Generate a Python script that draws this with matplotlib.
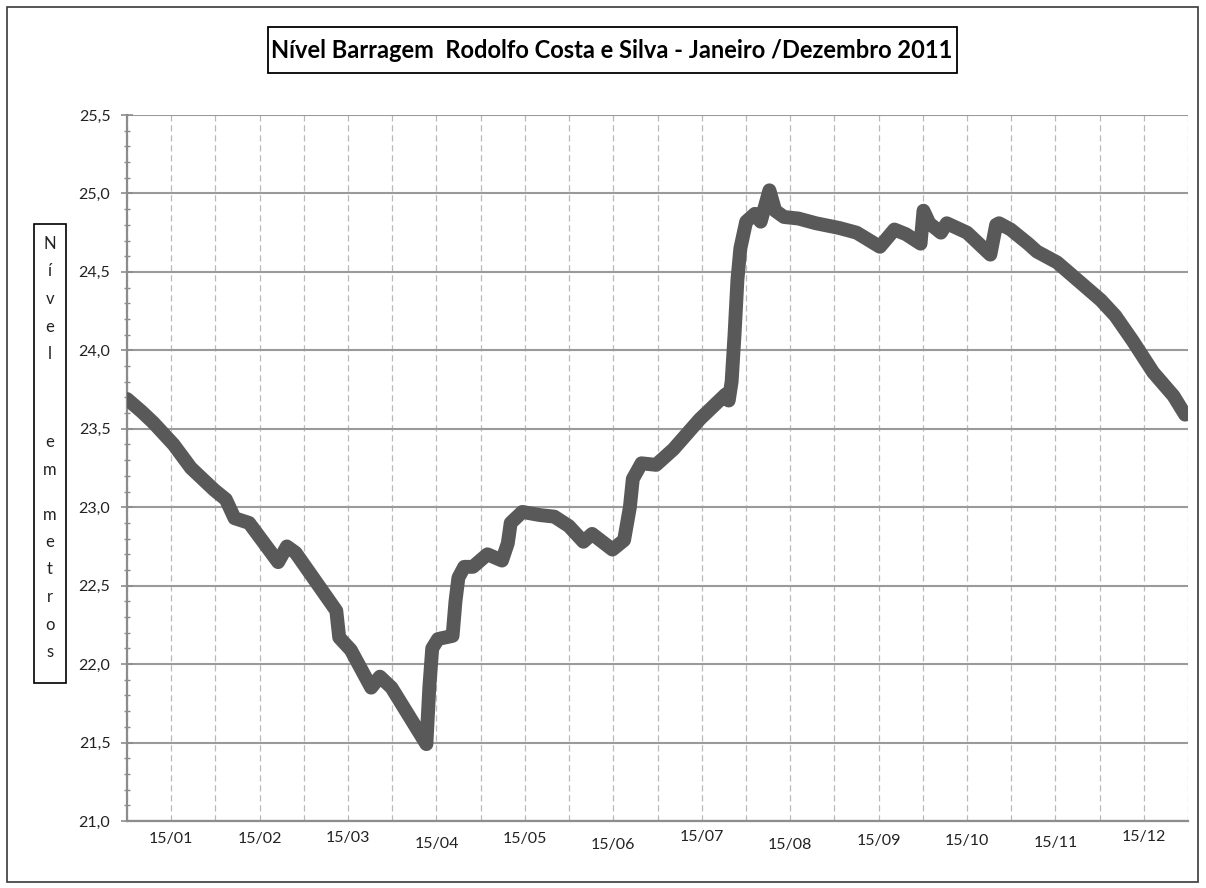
import numpy as np
import pandas as pd
import matplotlib
matplotlib.use("Agg")
from matplotlib import pyplot as plt
from matplotlib.patches import Rectangle
import matplotlib.dates as mdates

# nível diário da barragem (m), lido em datas de mudança de tendência
datas = [
    "2011-01-01", "2011-01-06", "2011-01-10", "2011-01-17", "2011-01-23", "2011-01-31",
    "2011-02-04", "2011-02-07", "2011-02-12", "2011-02-22", "2011-02-25", "2011-02-28",
    "2011-03-14", "2011-03-15", "2011-03-19", "2011-03-26", "2011-03-29", "2011-04-02",
    "2011-04-14", "2011-04-15", "2011-04-16", "2011-04-18", "2011-04-23", "2011-04-24",
    "2011-04-25", "2011-04-27", "2011-04-30", "2011-05-05", "2011-05-10", "2011-05-12",
    "2011-05-13", "2011-05-17", "2011-05-23", "2011-05-28", "2011-06-02", "2011-06-07",
    "2011-06-10", "2011-06-17", "2011-06-21", "2011-06-23", "2011-06-24", "2011-06-27",
    "2011-07-02", "2011-07-08", "2011-07-17", "2011-07-26", "2011-07-27", "2011-07-28",
    "2011-07-29", "2011-07-30", "2011-07-31", "2011-08-02", "2011-08-05", "2011-08-07",
    "2011-08-10", "2011-08-12", "2011-08-15", "2011-08-20", "2011-08-26", "2011-09-03",
    "2011-09-09", "2011-09-17", "2011-09-22", "2011-09-26", "2011-10-01", "2011-10-02",
    "2011-10-04", "2011-10-08", "2011-10-10", "2011-10-17", "2011-10-25", "2011-10-27",
    "2011-10-28", "2011-11-01", "2011-11-07", "2011-11-10", "2011-11-17", "2011-11-22",
    "2011-12-02", "2011-12-07", "2011-12-13", "2011-12-20", "2011-12-27", "2011-12-31",
]
nivel = [
    23.69, 23.61, 23.54, 23.40, 23.25, 23.11,
    23.05, 22.93, 22.90, 22.65, 22.75, 22.71,
    22.34, 22.17, 22.09, 21.85, 21.92, 21.85,
    21.49, 21.85, 22.10, 22.16, 22.18, 22.40,
    22.55, 22.62, 22.62, 22.70, 22.66, 22.77,
    22.90, 22.97, 22.95, 22.94, 22.88, 22.78,
    22.83, 22.73, 22.79, 23.00, 23.18, 23.28,
    23.27, 23.37, 23.56, 23.72, 23.68, 23.80,
    24.10, 24.45, 24.65, 24.82, 24.87, 24.82,
    25.02, 24.89, 24.85, 24.84, 24.81, 24.78,
    24.75, 24.66, 24.77, 24.74, 24.68, 24.89,
    24.81, 24.75, 24.81, 24.75, 24.61, 24.80,
    24.81, 24.77, 24.68, 24.63, 24.56, 24.48,
    24.32, 24.22, 24.06, 23.86, 23.71, 23.59,
]
meses = ["15/01", "15/02", "15/03", "15/04", "15/05", "15/06",
         "15/07", "15/08", "15/09", "15/10", "15/11", "15/12"]

titulo = "Nível Barragem  Rodolfo Costa e Silva - Janeiro /Dezembro 2011"
rotulo_y = "Nível em metros"

W, H = 1206, 888
plt.rcParams['font.family'] = ['Lato', 'DejaVu Sans']

fig = plt.figure(figsize=(W / 100, H / 100), dpi=100)


def caixa(x0, y0, x1, y1):
    # retângulo em pixels (origem no topo) -> coordenadas da figura
    return [x0 / W, 1 - y1 / H, (x1 - x0) / W, (y1 - y0) / H]


ax = fig.add_axes(caixa(127, 115, 1188, 821))

t = pd.to_datetime(datas)
ax.plot(t, nivel, color='#595959', lw=10, solid_joinstyle='round',
        solid_capstyle='round', zorder=3)

inicio = mdates.date2num(pd.Timestamp("2011-01-01"))
grade = inicio + np.linspace(0, 365, 25)
ax.set_xlim(grade[0], grade[-1])
ax.set_ylim(21.0, 25.5)

# grade vertical a cada meio mês; rótulos escritos à mão, cada um com seu desnível
ax.xaxis.remove_overlapping_locs = False
ax.set_xticks(grade[1::2], [""] * len(meses))
ax.set_xticks(grade, minor=True)
ax.xaxis.grid(True, which='minor', ls=(0, (5, 3)), color='#b9b9b9', lw=0.9)
ax.tick_params(axis='x', which='both', length=0)
desnivel = [0, 0, -1, 5, 0, 6, -2, 6, 2, 2, 4, -2]
for xm, rot, dy in zip(grade[1::2], meses, desnivel):
    ax.annotate(rot, (xm, 0), xycoords=('data', 'axes fraction'),
                xytext=(0, -8 - dy * 0.72), textcoords='offset points',
                ha='center', va='top', fontsize=11.5, color='#222222')

ax.set_yticks(np.arange(21.0, 25.51, 0.5))
ax.set_yticks(np.arange(21.0, 25.51, 0.1), minor=True)
ax.yaxis.set_major_formatter(lambda v, p: f"{v:.1f}".replace(".", ","))
ax.yaxis.grid(True, which='major', color='#9a9a9a', lw=1.5)
ax.tick_params(axis='y', which='major', direction='inout', length=8, width=1.2,
               color='#8c8c8c', pad=8, labelsize=11.5, labelcolor='#222222')
ax.tick_params(axis='y', which='minor', direction='inout', length=5, width=1.0,
               color='#8c8c8c')
ax.set_axisbelow(True)

for lado in ('top', 'right'):
    ax.spines[lado].set_visible(False)
for lado in ('left', 'bottom'):
    ax.spines[lado].set_color('#8c8c8c')
    ax.spines[lado].set_linewidth(1.6)

# moldura externa
fig.patches.append(Rectangle((7 / W, 1 - 882 / H), (1198 - 7) / W, (882 - 7) / H,
                             transform=fig.transFigure, fill=False,
                             ec='#3a3a3a', lw=1.2))

# título em caixa
fig.patches.append(Rectangle((268 / W, 1 - 73 / H), (957 - 268) / W, (73 - 27) / H,
                             transform=fig.transFigure, fill=False,
                             ec='black', lw=1.3))
fig.text(612 / W, 1 - 50 / H, titulo, ha='center', va='center',
         fontsize=17, fontweight='bold', color='black')

# rótulo vertical do eixo y: uma letra por linha, com saltos maiores nos espaços
fig.patches.append(Rectangle((34 / W, 1 - 683 / H), (66 - 34) / W, (683 - 224) / H,
                             transform=fig.transFigure, fill=False,
                             ec='black', lw=1.2))
saltos = iter([88, 45])
y_letra = 244
for i, ch in enumerate(rotulo_y):
    if ch == " ":
        continue
    fig.text(50 / W, 1 - y_letra / H, ch, ha='center', va='center',
             fontsize=12, color='#222222')
    proximo = rotulo_y[i + 1] if i + 1 < len(rotulo_y) else ""
    y_letra += next(saltos) if proximo == " " else 27.5

fig.savefig("out.png", dpi=100, facecolor='white')
